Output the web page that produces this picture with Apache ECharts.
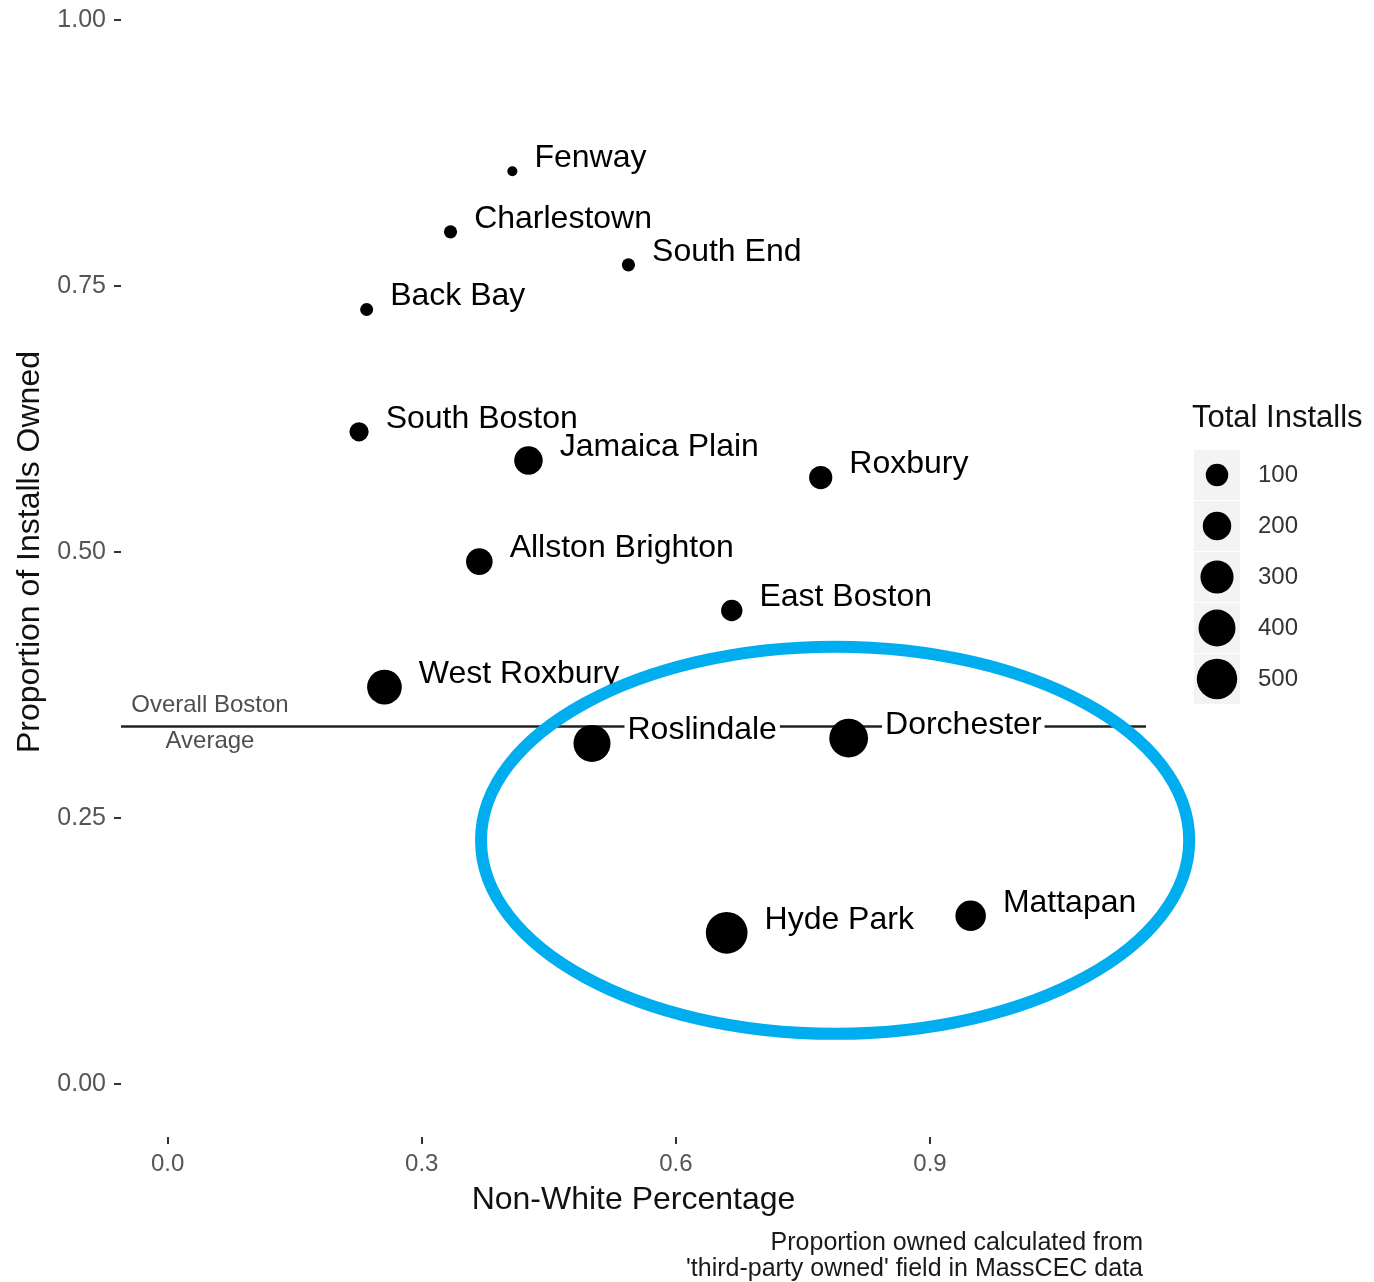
<!DOCTYPE html>
<html>
<head>
<meta charset="utf-8">
<script src="https://cdn.jsdelivr.net/npm/echarts@6/dist/echarts.min.js"></script>
<style>
html,body{margin:0;padding:0;background:#fff;}
#chart{width:1374px;height:1282px;}
</style>
</head>
<body>
<div id="chart"></div>
<script>
// ---- data ----
const neighborhoods = ['Fenway','Charlestown','South End','Back Bay','South Boston','Jamaica Plain','Roxbury','Allston Brighton','East Boston','West Roxbury','Roslindale','Dorchester','Hyde Park','Mattapan'];
const nonWhitePct  = [0.407, 0.334, 0.544, 0.235, 0.226, 0.426, 0.771, 0.368, 0.666, 0.256, 0.501, 0.804, 0.660, 0.948];
const propOwned    = [0.858, 0.801, 0.770, 0.728, 0.613, 0.586, 0.570, 0.491, 0.445, 0.373, 0.320, 0.325, 0.142, 0.158];
const totalInstalls = [2, 13, 13, 12, 60, 200, 110, 165, 85, 340, 400, 450, 540, 240];
const overallAverage = 0.336;
const averageLabelLines = ['Overall Boston', 'Average'];
const averageLabelX = 0.05;
const averageLabelY = [0.356, 0.322];
const xTicks = [0, 0.3, 0.6, 0.9];
const yTicks = [0, 0.25, 0.5, 0.75, 1.0];
const xRange = [-0.055, 1.155];
const yRange = [-0.05, 1.05];
const legendBreaks = [100, 200, 300, 400, 500];
const highlightCenter = [0.788, 0.229];
const highlightRadii = [0.418, 0.182];
const captionLines = ['Proportion owned calculated from', "'third-party owned' field in MassCEC data"];

const FONT = "'Liberation Sans', Arial, Helvetica, sans-serif";
function sizeFor(v) { return 8 + 1.45 * Math.sqrt(v); }

const chart = echarts.init(document.getElementById('chart'), null, {renderer: 'canvas'});

// legend graphic (size guide)
const legendGraphics = [{
  type: 'text', left: 1192, top: 403,
  style: {text: 'Total Installs', font: '31px ' + FONT, fill: '#111'}
}];
legendBreaks.forEach((b, i) => {
  const cy = 475 + i * 51;
  legendGraphics.push({type: 'rect', shape: {x: 1194, y: cy - 25, width: 46, height: 50}, style: {fill: '#f3f3f3'}, silent: true});
  legendGraphics.push({type: 'circle', shape: {cx: 1217, cy: cy, r: sizeFor(b) / 2}, style: {fill: '#000'}, silent: true});
  legendGraphics.push({type: 'text', x: 1258, y: cy, style: {text: String(b), font: '24px ' + FONT, fill: '#333', verticalAlign: 'middle'}, silent: true});
});
captionLines.forEach((t, i) => {
  legendGraphics.push({type: 'text', x: 1143, y: 1243 + i * 26, style: {text: t, font: '25px ' + FONT, fill: '#1a1a1a', align: 'right', verticalAlign: 'middle'}, silent: true});
});

const option = {
  backgroundColor: '#fff',
  animation: false,
  grid: {left: 121, right: 228, top: -33, bottom: 145, containLabel: false, outerBoundsMode: 'none'},
  xAxis: {
    type: 'value', min: xRange[0], max: xRange[1],
    axisLine: {show: false, onZero: false},
    splitLine: {show: false},
    axisTick: {show: true, customValues: xTicks, length: 7, lineStyle: {color: '#333', width: 2}},
    axisLabel: {customValues: xTicks, formatter: v => v.toFixed(1), fontSize: 24, color: '#555', margin: 15, fontFamily: FONT},
    name: 'Non-White Percentage', nameLocation: 'middle', nameGap: 47,
    nameTextStyle: {fontSize: 32, color: '#111', fontFamily: FONT}
  },
  yAxis: {
    type: 'value', min: yRange[0], max: yRange[1],
    axisLine: {show: false, onZero: false},
    splitLine: {show: false},
    axisTick: {show: true, customValues: yTicks, length: 7, lineStyle: {color: '#333', width: 2}},
    axisLabel: {customValues: yTicks, formatter: v => v.toFixed(2), fontSize: 25, color: '#555', margin: 15, fontFamily: FONT},
    name: 'Proportion of Installs Owned', nameLocation: 'middle', nameGap: 75,
    nameTextStyle: {fontSize: 32, color: '#111', fontFamily: FONT}
  },
  graphic: legendGraphics,
  series: [
    {
      type: 'line', z: 1, silent: true, symbol: 'none',
      data: [[xRange[0], overallAverage], [xRange[1], overallAverage]],
      lineStyle: {color: '#222', width: 2.5}
    },
    {
      type: 'scatter', z: 2, silent: true, symbolSize: 1,
      itemStyle: {color: 'rgba(0,0,0,0)'},
      data: averageLabelLines.map((t, i) => ({name: t, value: [averageLabelX, averageLabelY[i]]})),
      label: {show: true, position: 'inside', formatter: p => p.name, fontSize: 24, color: '#222', fontFamily: FONT}
    },
    {
      type: 'scatter', z: 3, silent: true,
      data: neighborhoods.map((n, i) => ({name: n, value: [nonWhitePct[i], propOwned[i], totalInstalls[i]]})),
      symbolSize: v => sizeFor(v[2]),
      itemStyle: {color: '#000', opacity: 1},
      label: {
        show: true, position: 'right', distance: 14, offset: [0, -13],
        formatter: p => p.name, fontSize: 32, color: '#000', fontFamily: FONT,
        backgroundColor: '#fff', padding: [0, 3]
      }
    },
    {
      type: 'custom', z: 10, silent: true, clip: false,
      encode: {x: 0, y: 1},
      data: [[highlightCenter[0], highlightCenter[1], highlightRadii[0], highlightRadii[1]]],
      renderItem: (params, api) => {
        const c = api.coord([api.value(0), api.value(1)]);
        const s = api.size([api.value(2), api.value(3)]);
        return {
          type: 'ellipse',
          shape: {cx: c[0], cy: c[1], rx: s[0], ry: s[1]},
          style: {fill: 'none', stroke: '#00AEEF', lineWidth: 12}
        };
      }
    }
  ]
};
chart.setOption(option);
</script>
</body>
</html>
